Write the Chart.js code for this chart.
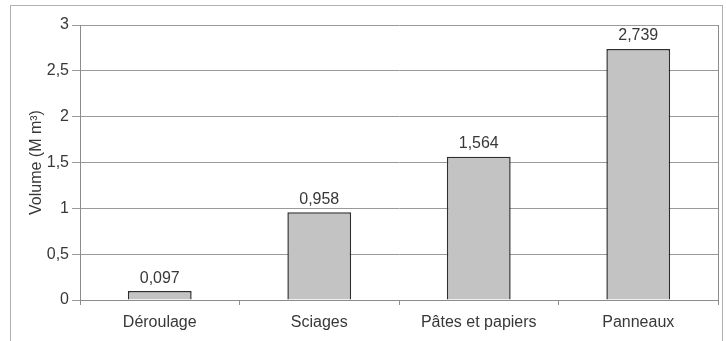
<!DOCTYPE html>
<html>
<head>
<meta charset="utf-8">
<script src="https://cdn.jsdelivr.net/npm/chart.js@4/dist/chart.umd.min.js"></script>
<style>
  html, body { margin: 0; padding: 0; background: #fff; }
  #wrap { width: 726px; height: 341px; position: relative; }
</style>
</head>
<body>
<div id="wrap"><canvas id="volChart" width="726" height="341"></canvas></div>
<script>
const categories = ['Déroulage', 'Sciages', 'Pâtes et papiers', 'Panneaux'];
const volumes = [0.097, 0.958, 1.564, 2.739];
const yTicks = [0, 0.5, 1, 1.5, 2, 2.5, 3];

const fmt = v => String(v).replace('.', ',');
const FONT = 'Liberation Sans, Arial, sans-serif';

// outer frame + plot border + value labels
const decor = {
    id: 'decor',
    afterDraw(chart) {
        const ctx = chart.ctx;
        const a = chart.chartArea;
        ctx.save();
        ctx.strokeStyle = '#b0b0b0';
        ctx.lineWidth = 1;
        ctx.strokeRect(10.5, 5.5, 712, 345);
        ctx.strokeStyle = '#8c8c8c';
        ctx.beginPath();
        ctx.moveTo(a.right + 0.5, a.top);
        ctx.lineTo(a.right + 0.5, a.bottom);
        ctx.stroke();

        ctx.fillStyle = '#383838';
        ctx.font = '16px ' + FONT;
        ctx.textAlign = 'center';
        ctx.textBaseline = 'bottom';
        const meta = chart.getDatasetMeta(0);
        meta.data.forEach((bar, i) => {
            ctx.fillText(fmt(volumes[i]), bar.x, bar.y - 5);
        });
        ctx.restore();
    }
};

new Chart(document.getElementById('volChart').getContext('2d'), {
    type: 'bar',
    data: {
        labels: categories,
        datasets: [{
            data: volumes,
            backgroundColor: '#c3c3c3',
            borderColor: '#2e2e2e',
            borderWidth: 1.5,
            barPercentage: 0.4,
            categoryPercentage: 1
        }]
    },
    options: {
        responsive: false,
        animation: false,
        layout: { padding: { left: 10, top: 25, right: 8, bottom: 0 } },
        plugins: { legend: { display: false }, tooltip: { enabled: false } },
        scales: {
            x: {
                grid: { display: true, drawOnChartArea: false, drawTicks: true, tickLength: 5, color: '#8c8c8c', offset: true },
                border: { color: '#8c8c8c' },
                ticks: { color: '#383838', font: { family: FONT, size: 16 }, padding: 8 },
                afterFit: s => { s.height = 41; }
            },
            y: {
                min: 0,
                max: 3,
                afterBuildTicks: s => { s.ticks = yTicks.map(v => ({ value: v })); },
                grid: { color: '#9a9a9a', tickLength: 8 },
                border: { color: '#8c8c8c' },
                ticks: { color: '#383838', font: { family: FONT, size: 16 }, padding: 3, callback: v => fmt(v) },
                title: { display: true, text: 'Volume (M m³)', color: '#383838', font: { family: FONT, size: 16 }, padding: { top: 17, bottom: 0 } },
                afterFit: s => { s.width = 70; }
            }
        }
    },
    plugins: [decor]
});
</script>
</body>
</html>
